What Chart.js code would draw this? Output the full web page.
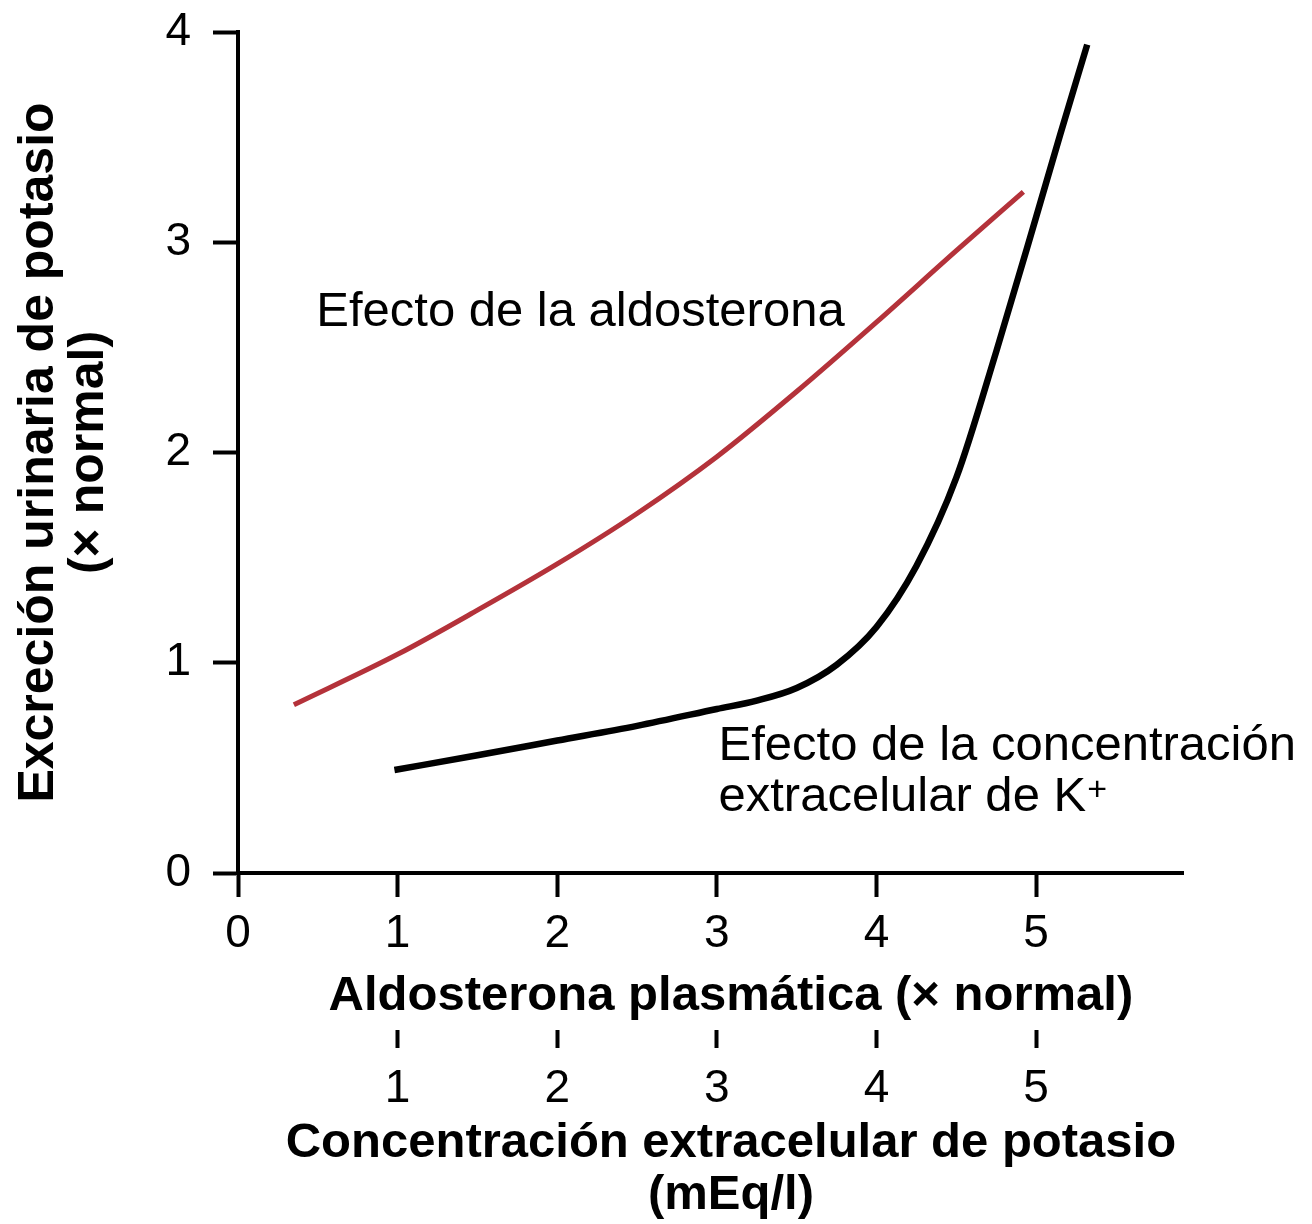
<!DOCTYPE html>
<html>
<head>
<meta charset="utf-8">
<script src="https://cdn.jsdelivr.net/npm/chart.js@4"></script>
<style>
  html, body { margin: 0; padding: 0; background: #fff; }
</style>
</head>
<body>
<canvas id="chart" width="1312" height="1224"></canvas>
<script>
// aldosterone effect (red)
var aldoX = [0.35, 1, 1.5, 2, 2.5, 3, 3.5, 4, 4.5, 4.92];
var aldoY = [0.80, 1.04, 1.25, 1.47, 1.71, 1.98, 2.29, 2.62, 2.96, 3.24];
// extracellular K+ effect (black)
var potX = [0.98, 1.5, 2, 2.5, 3, 3.25, 3.5, 3.75, 4, 4.25, 4.5, 4.75, 5, 5.15, 5.32];
var potY = [0.49, 0.56, 0.63, 0.70, 0.78, 0.82, 0.88, 0.99, 1.17, 1.46, 1.88, 2.48, 3.12, 3.51, 3.94];

var xTicks = [0, 1, 2, 3, 4, 5];
var x2Ticks = [1, 2, 3, 4, 5];
var yTicks = [0, 1, 2, 3, 4];

var notes = [
    { x: 0.49, y: 2.60, lines: ['Efecto de la aldosterona'] },
    { x: 3.01, y: 0.537, lines: ['Efecto de la concentración', 'extracelular de K'], sup: '+' }
];

Chart.defaults.font.family = "'Liberation Sans', Arial, sans-serif";
Chart.defaults.color = '#000';

function toPoints(xs, ys) {
    return xs.map(function (v, i) { return { x: v, y: ys[i] }; });
}
function fixTicks(list) {
    return function (scale) {
        scale.ticks = list.map(function (v) { return { value: v }; });
    };
}
// fixed box size, no extra label overflow padding
function fitBox(prop, size) {
    return function (s) {
        s[prop] = size;
        s.paddingTop = 0; s.paddingBottom = 0;
        s.paddingLeft = 0; s.paddingRight = 0;
    };
}

var notesPlugin = {
    id: 'notes',
    afterDatasetsDraw: function (chart) {
        var ctx = chart.ctx;
        var xs = chart.scales.x, ys = chart.scales.y;
        ctx.save();
        ctx.fillStyle = '#000';
        ctx.textAlign = 'left';
        ctx.textBaseline = 'alphabetic';
        notes.forEach(function (n) {
            var px = xs.getPixelForValue(n.x);
            var py = ys.getPixelForValue(n.y);
            n.lines.forEach(function (line, i) {
                ctx.font = "49px 'Liberation Sans', Arial, sans-serif";
                var ly = py + i * 51;
                ctx.fillText(line, px, ly);
                if (n.sup && i === n.lines.length - 1) {
                    var w = ctx.measureText(line).width;
                    ctx.font = "34px 'Liberation Sans', Arial, sans-serif";
                    ctx.fillText(n.sup, px + w + 1, ly - 11);
                }
            });
        });
        ctx.restore();
    }
};

new Chart(document.getElementById('chart'), {
    type: 'scatter',
    data: {
        datasets: [{
            label: 'Efecto de la aldosterona',
            data: toPoints(aldoX, aldoY),
            showLine: true,
            borderColor: '#b4323a',
            borderWidth: 5,
            pointRadius: 0,
            cubicInterpolationMode: 'monotone'
        }, {
            label: 'Efecto de la concentración extracelular de K+',
            data: toPoints(potX, potY),
            showLine: true,
            borderColor: '#000000',
            borderWidth: 6.5,
            pointRadius: 0,
            cubicInterpolationMode: 'monotone'
        }]
    },
    options: {
        responsive: false,
        animation: false,
        layout: { padding: { top: 32, right: 129, bottom: 0, left: 0 } },
        plugins: {
            legend: { display: false },
            tooltip: { enabled: false }
        },
        scales: {
            x: {
                type: 'linear',
                position: 'bottom',
                weight: 0,
                min: 0,
                max: 5.92,
                afterBuildTicks: fixTicks(xTicks),
                afterFit: fitBox('height', 157),
                border: { color: '#000', width: 4 },
                grid: { drawOnChartArea: false, tickLength: 24, tickWidth: 4, tickColor: '#000' },
                ticks: { color: '#000', font: { size: 46 }, padding: 10, maxRotation: 0, autoSkip: false },
                title: {
                    display: true,
                    text: '   Aldosterona plasmática (× normal)',
                    color: '#000',
                    font: { size: 49, weight: 'bold' },
                    padding: { top: 0, bottom: 4 }
                }
            },
            x2: {
                type: 'linear',
                position: 'bottom',
                weight: 1,
                min: 0,
                max: 5.92,
                afterBuildTicks: fixTicks(x2Ticks),
                afterFit: fitBox('height', 194),
                border: { display: false },
                grid: { drawOnChartArea: false, tickLength: 18, tickWidth: 4, tickColor: '#000' },
                ticks: { color: '#000', font: { size: 46 }, padding: 14, maxRotation: 0, autoSkip: false },
                title: {
                    display: true,
                    text: ['   Concentración extracelular de potasio', '   (mEq/l)'],
                    color: '#000',
                    font: { size: 49, weight: 'bold', lineHeight: 1.06 },
                    padding: { top: 0, bottom: 3 }
                }
            },
            y: {
                type: 'linear',
                min: 0,
                max: 4,
                afterBuildTicks: fixTicks(yTicks),
                afterFit: fitBox('width', 238),
                border: { color: '#000', width: 4 },
                grid: { drawOnChartArea: false, tickLength: 25, tickWidth: 4, tickColor: '#000' },
                ticks: { color: '#000', font: { size: 46 }, padding: 22 },
                title: {
                    display: true,
                    text: ['Excreción urinaria de potasio', '(× normal)'],
                    color: '#000',
                    font: { size: 50, weight: 'bold', lineHeight: 1.0 },
                    padding: { top: 14, bottom: 0 }
                }
            }
        }
    },
    plugins: [notesPlugin]
});
</script>
</body>
</html>
